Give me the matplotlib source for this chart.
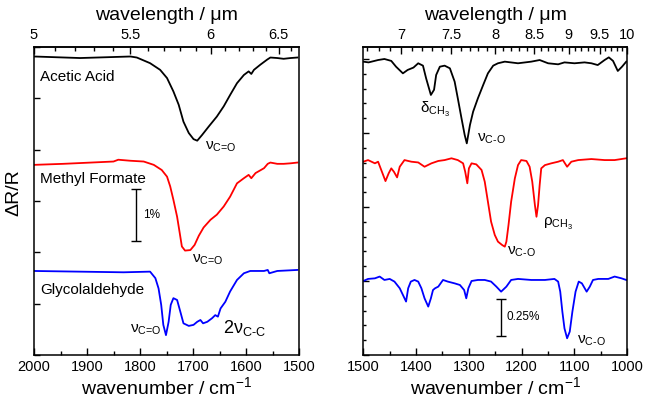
import numpy as np
import matplotlib.pyplot as plt
from matplotlib.ticker import MultipleLocator, FixedLocator, FormatStrFormatter

plt.rcParams['font.family'] = ['Liberation Sans', 'DejaVu Sans']
plt.rcParams['mathtext.fontset'] = 'custom'
plt.rcParams['mathtext.rm'] = 'Liberation Sans'
plt.rcParams['mathtext.it'] = 'Liberation Sans:italic'

# ---- C=O stretch region (2000-1500 cm-1), dR/R in % relative to each baseline
acetic_lo_wn = [2000, 1913, 1818, 1806, 1781, 1762, 1749, 1737, 1727, 1718, 1708, 1699,
                1692, 1683, 1670, 1655, 1642, 1630, 1617, 1604, 1595, 1590, 1585, 1573,
                1560, 1554, 1541, 1529, 1516, 1503]
acetic_lo = [0, -0.03, 0, -0.02, -0.13, -0.26, -0.42, -0.68, -0.94, -1.27, -1.49, -1.61,
             -1.64, -1.53, -1.36, -1.17, -0.97, -0.75, -0.52, -0.36, -0.29, -0.34, -0.26, -0.16,
             -0.06, -0.02, -0.03, -0.045, -0.03, -0.02]

formate_lo_wn = [2000, 1945, 1850, 1841, 1818, 1793, 1774, 1759, 1749, 1743, 1737, 1730,
                 1725, 1721, 1715, 1705, 1697, 1689, 1680, 1667, 1655, 1642, 1630, 1617,
                 1604, 1595, 1590, 1582, 1566, 1559, 1554, 1541, 1529, 1516, 1503]
formate_lo = [0, 0.02, 0.065, 0.10, 0.08, 0.065, 0, -0.10, -0.23, -0.42, -0.68, -1.01,
              -1.33, -1.59, -1.67, -1.66, -1.56, -1.38, -1.22, -1.07, -0.97, -0.81, -0.62, -0.36,
              -0.26, -0.195, -0.26, -0.16, -0.065, 0.02, 0.045, 0.02, 0.02, 0.03, 0.045]

glycol_lo_wn = [2000, 1831, 1781, 1771, 1765, 1760, 1756, 1751, 1746, 1742, 1737, 1730,
                1724, 1718, 1708, 1699, 1692, 1686, 1681, 1673, 1664, 1658, 1653, 1648,
                1639, 1630, 1617, 1604, 1592, 1566, 1559, 1556, 1541, 1516, 1503]
glycol_lo = [0, -0.026, -0.013, -0.14, -0.34, -0.66, -1.05, -1.25, -0.99, -0.66, -0.53, -0.565,
             -0.79, -1.02, -1.07, -1.05, -0.99, -0.955, -1.02, -0.99, -0.92, -0.86, -0.89, -0.73,
             -0.60, -0.40, -0.175, -0.045, 0, 0, 0.02, -0.045, 0, 0.013, 0.02]

# ---- fingerprint region (1500-1000 cm-1)
acetic_hi_wn = [1500, 1490, 1472, 1460, 1447, 1438, 1425, 1416, 1405, 1396, 1387, 1381,
                1372, 1366, 1362, 1355, 1346, 1336, 1327, 1321, 1314, 1308, 1304, 1298,
                1292, 1283, 1273, 1264, 1254, 1245, 1232, 1207, 1182, 1166, 1150, 1131,
                1119, 1100, 1081, 1068, 1056, 1043, 1035, 1027, 1018, 1010, 1002]
acetic_hi = [0, -0.005, 0.011, 0.018, 0.005, -0.034, -0.079, -0.056, -0.04, -0.011, -0.027, -0.113,
             -0.225, -0.19, -0.09, -0.034, -0.027, -0.045, -0.135, -0.248, -0.383, -0.495, -0.552, -0.428,
             -0.338, -0.248, -0.158, -0.079, -0.027, -0.011, 0, -0.011, 0, 0.011, -0.011, -0.018,
             -0.005, -0.011, -0.005, -0.011, -0.023, 0.011, 0.029, 0.005, -0.063, -0.034, 0]

formate_hi_wn = [1500, 1491, 1478, 1472, 1466, 1458, 1452, 1447, 1442, 1436, 1431, 1422,
                 1409, 1396, 1384, 1371, 1358, 1346, 1333, 1321, 1311, 1307, 1303, 1300,
                 1295, 1286, 1276, 1270, 1264, 1258, 1251, 1245, 1237, 1232, 1229, 1225,
                 1220, 1213, 1207, 1201, 1191, 1185, 1180, 1175, 1172, 1169, 1166, 1163,
                 1156, 1144, 1131, 1122, 1114, 1106, 1093, 1068, 1043, 1024, 1002]
formate_hi = [0, 0.011, -0.011, 0, -0.056, -0.131, -0.079, -0.045, -0.068, -0.106, -0.034, 0.011,
              0, -0.005, -0.034, -0.011, 0.005, 0.011, 0.023, 0.011, -0.011, -0.068, -0.146, -0.045,
              -0.011, -0.018, -0.056, -0.135, -0.27, -0.405, -0.495, -0.54, -0.563, -0.574, -0.54, -0.428,
              -0.27, -0.113, -0.023, 0.011, 0.005, -0.034, -0.135, -0.293, -0.372, -0.293, -0.158, -0.045,
              -0.023, -0.011, 0, 0.011, -0.034, 0, 0.011, 0.018, 0.011, 0.011, 0.023]

glycol_hi_wn = [1500, 1491, 1478, 1469, 1460, 1450, 1441, 1431, 1425, 1419, 1415, 1410,
                1403, 1396, 1390, 1384, 1377, 1372, 1368, 1364, 1358, 1349, 1340, 1327,
                1317, 1309, 1305, 1301, 1295, 1283, 1270, 1258, 1248, 1239, 1229, 1220,
                1207, 1182, 1156, 1138, 1131, 1127, 1123, 1119, 1114, 1109, 1104, 1098,
                1092, 1086, 1077, 1071, 1065, 1055, 1036, 1024, 1011, 1002]
glycol_hi = [-0.007, 0.007, 0.011, 0.023, 0, 0.007, -0.011, -0.056, -0.101, -0.146, -0.056, -0.011,
             0, -0.011, -0.056, -0.124, -0.18, -0.124, -0.068, -0.056, -0.045, 0, -0.011, -0.023,
             -0.034, -0.068, -0.124, -0.056, -0.007, 0, 0, -0.011, -0.045, -0.079, -0.045, 0,
             0.007, 0, 0, 0.007, -0.011, -0.079, -0.214, -0.327, -0.394, -0.349, -0.214, -0.079,
             -0.011, -0.023, -0.079, -0.045, 0, 0.007, 0.007, 0.023, 0.011, 0]

offsets_lo = [5.815, 3.704, 1.637]
offsets_hi = [1.982, 1.306, 0.507]
colors = ['black', '#ff0000', '#0000ff']
names = ['Acetic Acid', 'Methyl Formate', 'Glycolaldehyde']

# wavelength ticks on the top axes (um)
um_ticks_lo = [5, 5.5, 6, 6.5]
um_ticks_hi = [7, 7.5, 8, 8.5, 9, 9.5, 10]

fig = plt.figure(figsize=(6.46, 4.16), dpi=100)
ax1 = fig.add_axes([34 / 646, 61 / 416, 265 / 646, 308 / 416])
ax2 = fig.add_axes([363.3 / 646, 61 / 416, 264 / 646, 308 / 416])

lo = [(acetic_lo_wn, acetic_lo), (formate_lo_wn, formate_lo), (glycol_lo_wn, glycol_lo)]
hi = [(acetic_hi_wn, acetic_hi), (formate_hi_wn, formate_hi), (glycol_hi_wn, glycol_hi)]
for (wn, v), off, c in zip(lo, offsets_lo, colors):
    ax1.plot(wn, np.array(v) + off, color=c, lw=1.3)
for (wn, v), off, c in zip(hi, offsets_hi, colors):
    ax2.plot(wn, np.array(v) + off, color=c, lw=1.3)

ax1.set_xlim(2000, 1500)
ax1.set_ylim(0, 6.0)
ax2.set_xlim(1500, 1000)
ax2.set_ylim(0, 2.081)


def wn_to_um(x):
    x = np.asarray(x, dtype=float)
    with np.errstate(divide='ignore'):
        return 1e4 / x


for ax, um_ticks in ((ax1, um_ticks_lo), (ax2, um_ticks_hi)):
    for sp in ax.spines.values():
        sp.set_linewidth(1.1)
    ax.xaxis.set_major_locator(MultipleLocator(100))
    ax.xaxis.set_minor_locator(MultipleLocator(50))
    ax.tick_params(axis='x', which='both', direction='in', top=False, labelsize=10.5, width=1.0)
    ax.tick_params(axis='x', which='major', length=5)
    ax.tick_params(axis='x', which='minor', length=3)
    ax.tick_params(axis='y', which='both', direction='in', labelleft=False, width=1.0)
    ax.tick_params(axis='y', which='major', length=4)
    ax.tick_params(axis='y', which='minor', length=2.5)
    ax.set_xlabel('wavenumber / cm$^{-1}$', fontsize=14, labelpad=2)
    top = ax.secondary_xaxis('top', functions=(wn_to_um, wn_to_um))
    top.xaxis.set_major_locator(FixedLocator(um_ticks))
    lo_um, hi_um = sorted(wn_to_um(ax.get_xlim()))
    minor = np.round(np.arange(np.ceil(lo_um * 10), np.floor(hi_um * 10) + 1) / 10, 1)
    top.xaxis.set_minor_locator(FixedLocator(minor))
    top.xaxis.set_major_formatter(FormatStrFormatter('%g'))
    top.tick_params(which='both', direction='in', labelsize=10.5, width=1.0)
    top.tick_params(which='major', length=5)
    top.tick_params(which='minor', length=3)
    top.set_xlabel('wavelength / μm', fontsize=14, labelpad=6)
    top.spines['top'].set_linewidth(1.1)

ax1.yaxis.set_major_locator(MultipleLocator(1.0))
ax2.yaxis.set_major_locator(MultipleLocator(0.5))
ax2.yaxis.set_minor_locator(MultipleLocator(0.1))
ax1.set_ylabel('ΔR/R', fontsize=14)
ax1.yaxis.set_label_coords(-0.045, 0.526)

# molecule labels
for name, y in zip(names, [5.42, 3.425, 1.267]):
    ax1.text(1988.7, y, name, fontsize=11, ha='left', va='center')

# band assignments
band = dict(fontsize=11, ha='left', va='baseline')
co = 'ν$_{\\text{C=O}}$'
c_o = 'ν$_{\\text{C-O}}$'
ax1.text(1676.7, 3.995, co, **band)
ax1.text(1701.9, 1.80, co, **band)
ax1.text(1818.5, 0.442, co, **band)
ax1.text(1643.3, 0.423, '2ν$_{\\text{C-C}}$', fontsize=13, ha='left', va='baseline')
ax2.text(1392.6, 1.635, 'δ$_{\\mathrm{CH_3}}$', **band)
ax2.text(1285.2, 1.441, c_o, **band)
ax2.text(1160.2, 0.872, 'ρ$_{\\mathrm{CH_3}}$', **band)
ax2.text(1228.4, 0.676, c_o, **band)
ax2.text(1095.8, 0.079, c_o, **band)

# intensity scale bars
ax1.errorbar([1807], [2.728], yerr=[0.5], color='black', capsize=3.6, elinewidth=1.0, capthick=1.0)
ax1.text(1795, 2.728, '1%', fontsize=8.5, ha='left', va='center')
ax2.errorbar([1239], [0.255], yerr=[0.125], color='black', capsize=3.6, elinewidth=1.0, capthick=1.0)
ax2.text(1228, 0.255, '0.25%', fontsize=8.5, ha='left', va='center')

fig.savefig('out.png', dpi=100)
